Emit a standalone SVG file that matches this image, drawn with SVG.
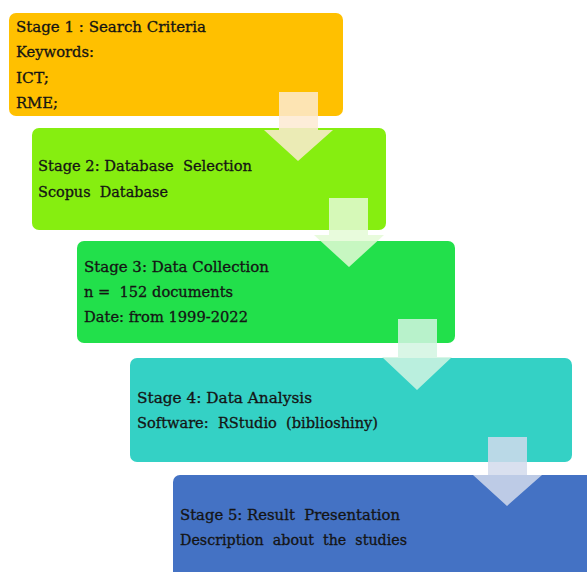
<svg xmlns="http://www.w3.org/2000/svg" width="587" height="572" viewBox="0 0 587 572">
<style>
text{font-family:"DejaVu Serif","Liberation Serif",serif;font-size:14.5px;fill:#141414;stroke:#141414;stroke-width:0.3px;white-space:pre}
.arr{stroke:none}
</style>
<rect width="587" height="572" fill="#ffffff"/>
<g id="stage1">
<rect x="9" y="13" width="334" height="103" rx="7" fill="#FFC000"/>
<text x="16" y="32" textLength="190" lengthAdjust="spacingAndGlyphs">Stage 1 : Search Criteria</text>
<text x="16" y="57" textLength="78" lengthAdjust="spacingAndGlyphs">Keywords:</text>
<text x="16" y="83" textLength="33" lengthAdjust="spacingAndGlyphs">ICT;</text>
<text x="16" y="108" textLength="42" lengthAdjust="spacingAndGlyphs">RME;</text>
</g>
<g id="stage2">
<rect x="32" y="128" width="354" height="102" rx="7" fill="#86EE10"/>
<text x="38" y="171" textLength="214" lengthAdjust="spacingAndGlyphs">Stage 2: Database  Selection</text>
<text x="38" y="197" textLength="130" lengthAdjust="spacingAndGlyphs">Scopus  Database</text>
</g>
<g id="stage3">
<rect x="77" y="241" width="378" height="102" rx="7" fill="#22E04B"/>
<text x="84" y="272" textLength="185" lengthAdjust="spacingAndGlyphs">Stage 3: Data Collection</text>
<text x="84" y="297" textLength="149" lengthAdjust="spacingAndGlyphs">n =  152 documents</text>
<text x="84" y="322" textLength="164" lengthAdjust="spacingAndGlyphs">Date: from 1999-2022</text>
</g>
<g id="stage4">
<rect x="130" y="358" width="442" height="104" rx="7" fill="#34D1C5"/>
<text x="137" y="403" textLength="175" lengthAdjust="spacingAndGlyphs">Stage 4: Data Analysis</text>
<text x="137" y="428" textLength="241" lengthAdjust="spacingAndGlyphs">Software:  RStudio  (biblioshiny)</text>
</g>
<g id="stage5">
<rect x="173" y="475" width="430" height="110" rx="7" fill="#4472C4"/>
<text x="180" y="520" textLength="220" lengthAdjust="spacingAndGlyphs">Stage 5: Result  Presentation</text>
<text x="180" y="545" textLength="227" lengthAdjust="spacingAndGlyphs">Description  about  the  studies</text>
</g>
<g id="connectors">
<path class="arr" d="M279,92 H318 V130 H333 L298,161 L264,130 H279 Z" fill="#FDEAD2" fill-opacity="0.85"/>
<path class="arr" d="M329,198 H368 V235 H384 L349,267 L314,235 H329 Z" fill="#E4FAD6" fill-opacity="0.85"/>
<path class="arr" d="M398,319 H437 V357 H452 L417,390 L382,357 H398 Z" fill="#D2F4E2" fill-opacity="0.85"/>
<path class="arr" d="M488,437 H527 V475 H542 L507,506 L473,475 H488 Z" fill="#D2DAEC" fill-opacity="0.85"/>
</g>
</svg>
